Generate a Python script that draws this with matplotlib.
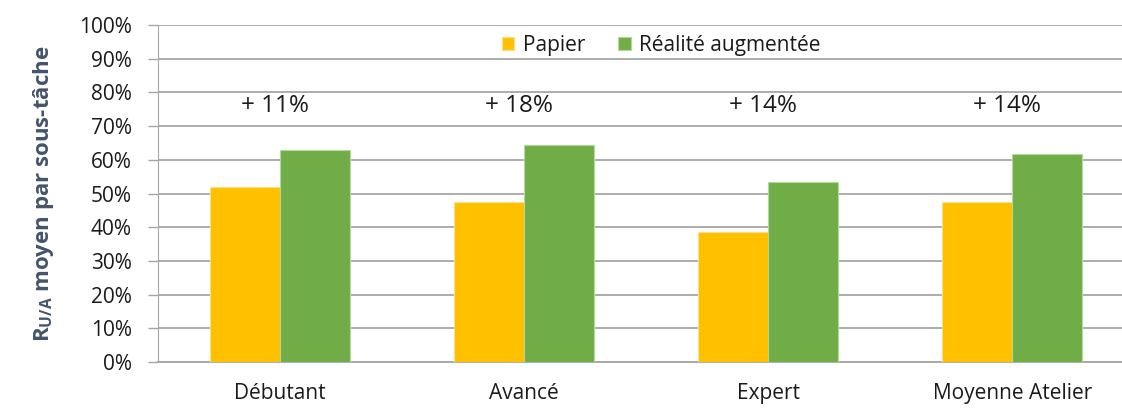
import matplotlib
matplotlib.use("Agg")
import matplotlib.pyplot as plt
import numpy as np

categories = ["Débutant", "Avancé", "Expert", "Moyenne Atelier"]
papier = [51.9, 47.6, 38.6, 47.6]
realite = [62.8, 64.5, 53.4, 61.6]
gains = ["+ 11%", "+ 18%", "+ 14%", "+ 14%"]

plt.rcParams['font.family'] = ['Open Sans', 'DejaVu Sans']
plt.rcParams['mathtext.fontset'] = 'custom'
plt.rcParams['mathtext.bf'] = 'Open Sans:bold'
plt.rcParams['mathtext.rm'] = 'Open Sans'

fig = plt.figure(figsize=(11.22, 4.08), dpi=100)
ax = fig.add_axes([0.1408, 0.1127, 0.8592, 0.826])

x = np.arange(len(categories))
w = 0.287
ax.bar(x - w / 2, papier, w, color="#FFC000", edgecolor="#FFE08A", linewidth=0.8,
       label="Papier", zorder=3)
ax.bar(x + w / 2, realite, w, color="#70AD47", edgecolor="#B5D99C", linewidth=0.8,
       label="Réalité augmentée", zorder=3)

for xi, g in zip(x, gains):
    ax.text(xi - 0.02, 76, g, ha="center", va="center", fontsize=17.5, color="#1a1a1a")

ax.set_xlim(-0.5, 3.45)
ax.set_ylim(0, 100)
ax.set_yticks(np.arange(0, 101, 10))
ax.set_yticklabels([f"{v}%" for v in range(0, 101, 10)], fontsize=15, color="#1a1a1a")
ax.set_xticks(x)
ax.set_xticklabels(categories, fontsize=15, color="#1a1a1a")
ax.tick_params(axis="x", length=0, pad=15)
ax.tick_params(axis="y", length=7, width=1, color="#A6A6A6", pad=12)

ax.yaxis.grid(True, color="#A6A6A6", linewidth=1.3, zorder=0)
ax.set_axisbelow(True)
for s in ["top", "right"]:
    ax.spines[s].set_visible(False)
ax.spines["left"].set_color("#A6A6A6")
ax.spines["bottom"].set_color("#A6A6A6")
ax.spines["bottom"].set_linewidth(1.3)

ax.set_ylabel(r"R$_{\mathbf{U/A}}$ moyen par sous-tâche", fontsize=16, fontweight="bold",
              color="#44546A", labelpad=16)

leg = ax.legend(loc="center", bbox_to_anchor=(0.522, 0.94), ncol=2, frameon=False,
                fontsize=15, handlelength=0.6, handleheight=0.6, handletextpad=0.4,
                columnspacing=1.6)
for t in leg.get_texts():
    t.set_color("#1a1a1a")

fig.savefig("out.png", dpi=100)
